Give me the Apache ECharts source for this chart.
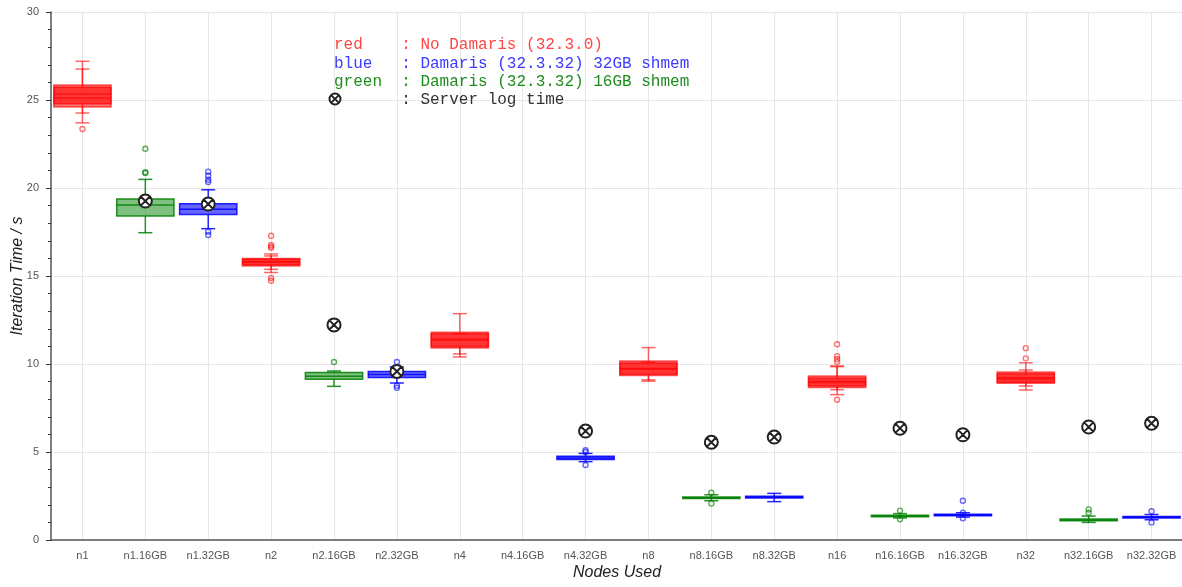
<!DOCTYPE html>
<html>
<head>
<meta charset="utf-8">
<script src="https://cdn.jsdelivr.net/npm/echarts@6/dist/echarts.min.js"></script>
<style>
html,body{margin:0;padding:0;background:#fff;}
#chart{width:1182px;height:587px;}
</style>
</head>
<body>
<div id="chart"></div>
<script>
const categories = ['n1','n1.16GB','n1.32GB','n2','n2.16GB','n2.32GB','n4','n4.16GB','n4.32GB',
  'n8','n8.16GB','n8.32GB','n16','n16.16GB','n16.32GB','n32','n32.16GB','n32.32GB'];

const yTicks = { min: 0, max: 30, interval: 5 };

// [category, min, q1, median, q3, max]
const noDamarisRunA = [
  ['n1', 23.7, 24.6, 25.34, 25.85, 27.2],
  ['n2', 15.2, 15.57, 15.78, 16.0, 16.25],
  ['n4', 10.4, 10.91, 11.42, 11.8, 12.86],
  ['n8', 9.02, 9.34, 9.75, 10.17, 10.93],
  ['n16', 8.26, 8.66, 9.0, 9.32, 9.89],
  ['n32', 8.52, 8.9, 9.22, 9.55, 10.07]
];
const noDamarisRunB = [
  ['n1', 24.26, 24.78, 25.12, 25.72, 26.76],
  ['n2', 15.38, 15.64, 15.82, 15.96, 16.14],
  ['n4', 10.57, 11.0, 11.35, 11.72, 11.72],
  ['n8', 9.1, 9.42, 9.7, 10.05, 10.1],
  ['n16', 8.54, 8.75, 8.95, 9.2, 9.85],
  ['n32', 8.75, 8.96, 9.15, 9.45, 9.66]
];
const shmem16GB = [
  ['n1.16GB', 17.46, 18.41, 19.03, 19.38, 20.49],
  ['n2.16GB', 8.73, 9.13, 9.3, 9.51, 9.6],
  ['n8.16GB', 2.23, 2.36, 2.4, 2.44, 2.57],
  ['n16.16GB', 1.25, 1.32, 1.36, 1.41, 1.5],
  ['n32.16GB', 1.0, 1.1, 1.14, 1.19, 1.36]
];
const shmem32GB = [
  ['n1.32GB', 17.69, 18.49, 18.79, 19.1, 19.9],
  ['n2.32GB', 8.92, 9.24, 9.4, 9.58, 9.83],
  ['n4.32GB', 4.45, 4.57, 4.66, 4.76, 4.92],
  ['n8.32GB', 2.18, 2.38, 2.43, 2.48, 2.65],
  ['n16.32GB', 1.3, 1.38, 1.42, 1.46, 1.55],
  ['n32.32GB', 1.15, 1.25, 1.29, 1.33, 1.45]
];

// [category, value]
const noDamarisOutliers = [
  ['n1', 23.35],
  ['n2', 17.29], ['n2', 16.76], ['n2', 16.67], ['n2', 16.6], ['n2', 14.89], ['n2', 14.73],
  ['n16', 11.12], ['n16', 10.45], ['n16', 10.28], ['n16', 10.13], ['n16', 7.97],
  ['n32', 10.9], ['n32', 10.32]
];
const shmem16GBOutliers = [
  ['n1.16GB', 22.23], ['n1.16GB', 20.9], ['n1.16GB', 20.85],
  ['n2.16GB', 10.11],
  ['n8.16GB', 2.69], ['n8.16GB', 2.08],
  ['n16.16GB', 1.67], ['n16.16GB', 1.18],
  ['n32.16GB', 1.74], ['n32.16GB', 1.55]
];
const shmem32GBOutliers = [
  ['n1.32GB', 20.93], ['n1.32GB', 20.7], ['n1.32GB', 20.47], ['n1.32GB', 20.34],
  ['n1.32GB', 17.52], ['n1.32GB', 17.33],
  ['n2.32GB', 10.11], ['n2.32GB', 8.77], ['n2.32GB', 8.65],
  ['n4.32GB', 5.1], ['n4.32GB', 5.0], ['n4.32GB', 4.26],
  ['n16.32GB', 2.23], ['n16.32GB', 1.55], ['n16.32GB', 1.23],
  ['n32.32GB', 1.63], ['n32.32GB', 1.0]
];
const serverLogTime = [
  ['n1.16GB', 19.26], ['n1.32GB', 19.09], ['n2.16GB', 12.22], ['n2.32GB', 9.58],
  ['n4.32GB', 6.19], ['n8.16GB', 5.55], ['n8.32GB', 5.85], ['n16.16GB', 6.35],
  ['n16.32GB', 5.98], ['n32.16GB', 6.42], ['n32.32GB', 6.63]
];

const legendLines = [
  { text: 'red    : No Damaris (32.3.0)', color: '#ff4545' },
  { text: 'blue   : Damaris (32.3.32) 32GB shmem', color: '#3b3bff' },
  { text: 'green  : Damaris (32.3.32) 16GB shmem', color: '#1e8c1e' },
  { text: '       : Server log time', color: '#333333' }
];

function boxRenderer(stroke, fill) {
  return function (params, api) {
    const x = api.value(0);
    const pMin = api.coord([x, api.value(1)]);
    const pQ1 = api.coord([x, api.value(2)]);
    const pMed = api.coord([x, api.value(3)]);
    const pQ3 = api.coord([x, api.value(4)]);
    const pMax = api.coord([x, api.value(5)]);
    const band = api.size([1, 0])[0];
    const half = band * 0.455;
    const cap = 7;
    const cx = pMed[0];
    const ls = { stroke: stroke, lineWidth: 1.5 };
    return {
      type: 'group',
      children: [
        { type: 'line', shape: { x1: cx, y1: pQ3[1], x2: cx, y2: pMax[1] }, style: ls },
        { type: 'line', shape: { x1: cx, y1: pQ1[1], x2: cx, y2: pMin[1] }, style: ls },
        { type: 'line', shape: { x1: cx - cap, y1: pMax[1], x2: cx + cap, y2: pMax[1] }, style: ls },
        { type: 'line', shape: { x1: cx - cap, y1: pMin[1], x2: cx + cap, y2: pMin[1] }, style: ls },
        { type: 'rect', shape: { x: cx - half, y: pQ3[1], width: 2 * half, height: Math.max(pQ1[1] - pQ3[1], 1) },
          style: { fill: fill, stroke: stroke, lineWidth: 1.5 } },
        { type: 'line', shape: { x1: cx - half, y1: pMed[1], x2: cx + half, y2: pMed[1] }, style: ls }
      ]
    };
  };
}

const otimesPath = 'path://M0,10 A10,10 0 1,1 20,10 A10,10 0 1,1 0,10 Z M2.93,2.93 L17.07,17.07 M17.07,2.93 L2.93,17.07';

function boxSeries(name, data, stroke, fill) {
  return {
    name: name, type: 'custom', data: data,
    encode: { x: 0, y: [1, 2, 3, 4, 5] },
    renderItem: boxRenderer(stroke, fill), z: 3
  };
}
function outlierSeries(name, data, color) {
  return {
    name: name, type: 'scatter', data: data, symbol: 'circle', symbolSize: 5,
    itemStyle: { color: 'rgba(255,255,255,0)', borderColor: color, borderWidth: 1.4, opacity: 1 }, z: 4
  };
}

const legendGraphics = legendLines.map(function (l, i) {
  return {
    type: 'text', left: 334, top: 37 + i * 18.3, z: 100,
    style: { text: l.text, fill: l.color, font: '16px "Liberation Mono", "Courier New", monospace' }
  };
});
const mk = { x: 335, y: 99, r: 5.5, d: 3.9 };
legendGraphics.push(
  { type: 'circle', z: 101, shape: { cx: mk.x, cy: mk.y, r: mk.r }, style: { fill: '#fff', stroke: '#222', lineWidth: 2 } },
  { type: 'line', z: 102, shape: { x1: mk.x - mk.d, y1: mk.y - mk.d, x2: mk.x + mk.d, y2: mk.y + mk.d }, style: { stroke: '#222', lineWidth: 2 } },
  { type: 'line', z: 102, shape: { x1: mk.x + mk.d, y1: mk.y - mk.d, x2: mk.x - mk.d, y2: mk.y + mk.d }, style: { stroke: '#222', lineWidth: 2 } }
);

const chart = echarts.init(document.getElementById('chart'), null, { renderer: 'canvas' });
chart.setOption({
  animation: false,
  backgroundColor: '#fff',
  textStyle: { fontFamily: 'Liberation Sans, Arial, sans-serif' },
  grid: { left: 51, width: 1132, top: 12, bottom: 47, containLabel: false, outerBoundsMode: 'none' },
  xAxis: {
    type: 'category', data: categories,
    name: 'Nodes Used', nameLocation: 'middle', nameGap: 25, nameMoveOverlap: false,
    nameTextStyle: { fontStyle: 'italic', fontSize: 16, color: '#222' },
    axisLine: { lineStyle: { color: '#555', width: 1.5 } },
    axisTick: { alignWithLabel: true, length: 5, lineStyle: { color: '#333' } },
    axisLabel: { interval: 0, fontSize: 11, color: '#555', margin: 10 },
    splitLine: { show: true, alignWithLabel: true, lineStyle: { color: '#e6e6e6' } }
  },
  yAxis: {
    type: 'value', min: yTicks.min, max: yTicks.max, interval: yTicks.interval,
    name: 'Iteration Time / s', nameLocation: 'middle', nameGap: 25, nameMoveOverlap: false,
    nameTextStyle: { fontStyle: 'italic', fontSize: 16, color: '#222' },
    axisLine: { show: true, lineStyle: { color: '#555', width: 1.5 } },
    axisTick: { show: true, length: 5, lineStyle: { color: '#333' } },
    minorTick: { show: true, splitNumber: 5, length: 3, lineStyle: { color: '#333' } },
    axisLabel: { fontSize: 11, color: '#555', margin: 12 },
    splitLine: { lineStyle: { color: '#e6e6e6' } }
  },
  graphic: legendGraphics,
  series: [
    boxSeries('No Damaris A', noDamarisRunA, 'rgba(255,0,0,0.6)', 'rgba(255,0,0,0.55)'),
    boxSeries('No Damaris B', noDamarisRunB, 'rgba(255,0,0,0.6)', 'rgba(255,0,0,0.55)'),
    boxSeries('16GB shmem', shmem16GB, 'rgba(0,128,0,0.85)', 'rgba(0,128,0,0.5)'),
    boxSeries('32GB shmem', shmem32GB, 'rgba(0,0,255,0.85)', 'rgba(0,0,255,0.6)'),
    outlierSeries('No Damaris outliers', noDamarisOutliers, 'rgba(255,0,0,0.55)'),
    outlierSeries('16GB outliers', shmem16GBOutliers, 'rgba(0,128,0,0.65)'),
    outlierSeries('32GB outliers', shmem32GBOutliers, 'rgba(0,0,255,0.6)'),
    {
      name: 'Server log time', type: 'scatter', data: serverLogTime,
      symbol: otimesPath, symbolSize: 13,
      itemStyle: { color: '#fff', borderColor: '#222', borderWidth: 2, opacity: 1 }, z: 5
    }
  ]
});
</script>
</body>
</html>
